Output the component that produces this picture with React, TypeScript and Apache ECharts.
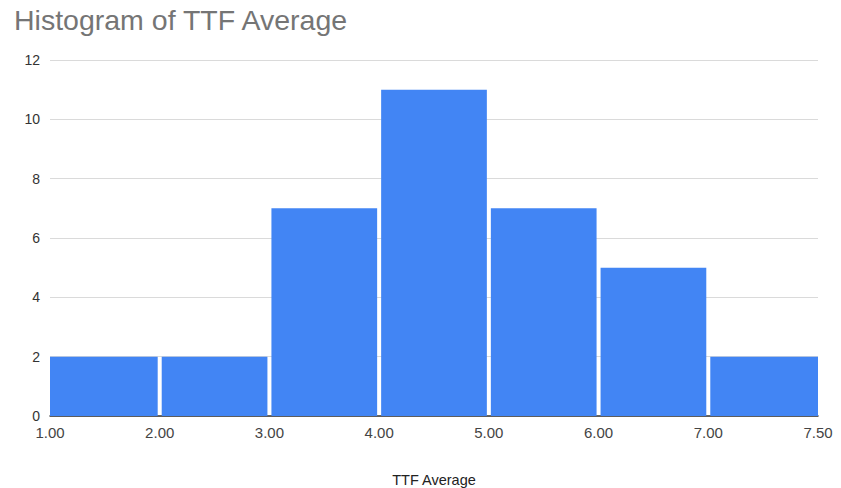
import React, { useEffect, useRef } from "react";
import * as echarts from "echarts";

const binLabels = ["1.00", "2.00", "3.00", "4.00", "5.00", "6.00", "7.00", "7.50"];
const counts = [2, 2, 7, 11, 7, 5, 2];
const yTicks = { min: 0, max: 12, interval: 2 };

export default function App() {
  const ref = useRef<HTMLDivElement>(null);
  useEffect(() => {
    if (!ref.current) return;
    const chart = echarts.init(ref.current, undefined, { renderer: "svg" });
    const font = "'Liberation Sans', Arial, sans-serif";
    chart.setOption({
      animation: false,
      backgroundColor: "#ffffff",
      title: {
        text: "Histogram of TTF Average",
        left: 9,
        top: 0,
        textStyle: { fontFamily: font, fontSize: 28.5, fontWeight: "normal", color: "#757575" },
      },
      grid: { left: 50, right: 23, top: 60, bottom: 72, outerBoundsMode: "none", containLabel: false },
      xAxis: {
        type: "value",
        min: 0,
        max: counts.length,
        interval: 1,
        name: "TTF Average",
        nameLocation: "middle",
        nameGap: 56,
        nameTextStyle: { fontFamily: font, fontSize: 14.5, color: "#222" },
        axisLine: { show: true, lineStyle: { color: "#333", width: 1.5 } },
        axisTick: { show: false },
        splitLine: { show: false },
        axisLabel: {
          fontFamily: font,
          fontSize: 15,
          color: "#444",
          margin: 9,
          formatter: (v: number) => binLabels[Math.round(v)] ?? "",
        },
      },
      yAxis: {
        type: "value",
        min: yTicks.min,
        max: yTicks.max,
        interval: yTicks.interval,
        axisLine: { show: false },
        axisTick: { show: false },
        axisLabel: { fontFamily: font, fontSize: 14, color: "#333", margin: 10 },
        splitLine: { lineStyle: { color: "#dadada", width: 1 } },
      },
      series: [
        {
          type: "custom",
          data: counts.map((c, i) => [i, c]),
          renderItem: (params: any, api: any) => {
            const i = api.value(0);
            const v = api.value(1);
            const p0 = api.coord([i, v]);
            const p1 = api.coord([i + 1, 0]);
            const gap = 2;
            const x0 = p0[0] + (i > 0 ? gap : 0);
            const x1 = p1[0] - (i < counts.length - 1 ? gap : 0);
            return {
              type: "rect",
              shape: { x: x0, y: p0[1], width: x1 - x0, height: p1[1] - p0[1] },
              style: { fill: "#4285f4" },
            };
          },
          z: 1,
        },
      ],
    });
    return () => chart.dispose();
  }, []);
  return (
    <div
      ref={ref}
      style={{ position: "fixed", left: 0, top: 0, width: 841, height: 488 }}
    />
  );
}
